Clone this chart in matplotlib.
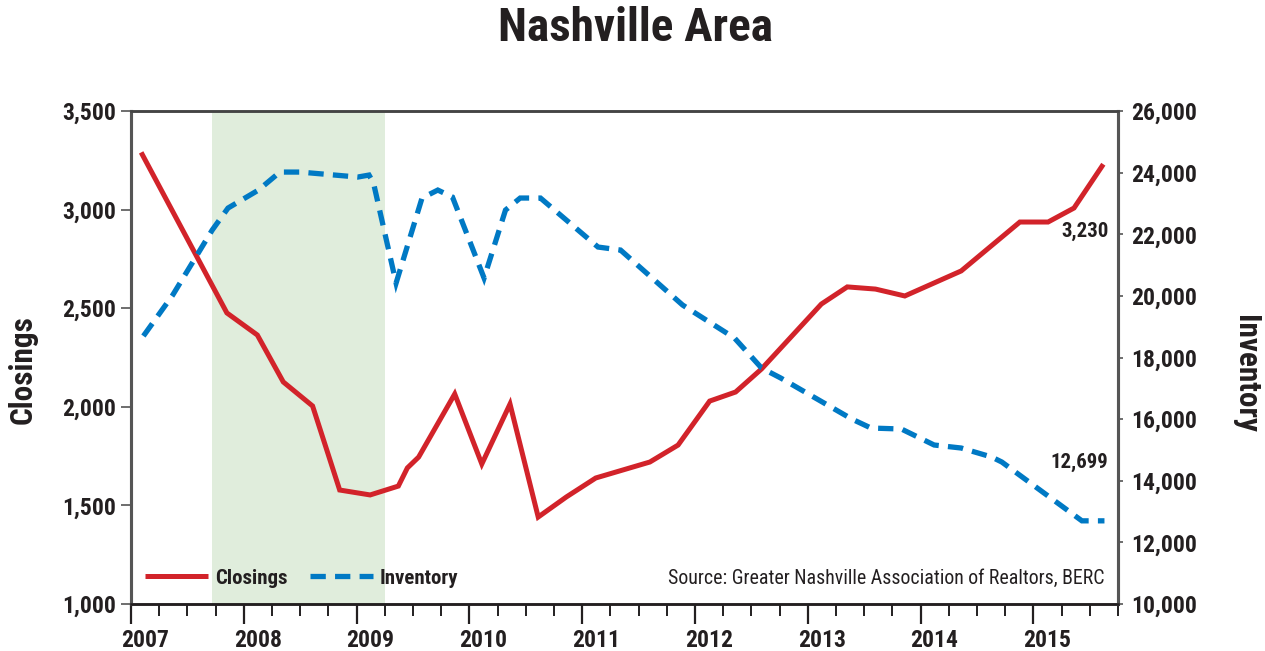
import matplotlib
matplotlib.use("Agg")
import matplotlib.pyplot as plt
from matplotlib import font_manager
from matplotlib.transforms import ScaledTranslation
from matplotlib.ticker import FuncFormatter, MultipleLocator

# ---------------- data ----------------
closings_x = [2007.09, 2007.85, 2008.12, 2008.35, 2008.61, 2008.85, 2009.12, 2009.37,
              2009.45, 2009.55, 2009.87, 2010.11, 2010.36, 2010.61, 2010.86, 2011.12,
              2011.60, 2011.85, 2012.13, 2012.36, 2012.59, 2013.12, 2013.35, 2013.60,
              2013.86, 2014.36, 2014.88, 2015.13, 2015.36, 2015.62]
closings = [3290, 2476, 2364, 2126, 2004, 1578, 1553, 1598,
            1690, 1745, 2065, 1710, 2014, 1441, 1543, 1639,
            1720, 1806, 2029, 2075, 2192, 2521, 2608, 2597,
            2562, 2689, 2937, 2937, 3008, 3230]

inventory_x = [2007.11, 2007.37, 2007.72, 2007.86, 2008.13, 2008.32, 2008.50, 2009.01,
               2009.11, 2009.15, 2009.35, 2009.58, 2009.72, 2009.85, 2010.13, 2010.32,
               2010.45, 2010.63, 2011.14, 2011.34, 2011.89, 2012.35, 2012.59, 2012.76,
               2013.39, 2013.56, 2013.83, 2014.12, 2014.36, 2014.63, 2014.72, 2015.43,
               2015.63]
inventory = [18697, 20027, 22136, 22850, 23434, 24018, 24018, 23856,
             23921, 23661, 20416, 23175, 23434, 23207, 20579, 22785,
             23175, 23175, 21585, 21487, 19703, 18632, 17658, 17334,
             16003, 15711, 15679, 15160, 15062, 14770, 14608, 12699,
             12699]

recession = [2007.72, 2009.25]
years = [2007, 2008, 2009, 2010, 2011, 2012, 2013, 2014, 2015]
year_labels = [str(y) for y in years]
left_ticks = [1000, 1500, 2000, 2500, 3000, 3500]
right_ticks = [10000, 12000, 14000, 16000, 18000, 20000, 22000, 24000, 26000]

title = "Nashville Area"
source = "Source: Greater Nashville Association of Realtors, BERC"

# ---------------- font selection ----------------
fl = font_manager.fontManager.ttflist
names = {f.name for f in fl}
STRETCH = 'normal'
SCALE = 1.0
if "Liberation Sans Narrow" in names:
    FONT = "Liberation Sans Narrow"
elif "Roboto Condensed" in names:
    FONT = "Roboto Condensed"
elif any(f.name == "DejaVu Sans" and f.stretch in ('condensed', 'semi-condensed', 600, 500) for f in fl):
    FONT = "DejaVu Sans"
    STRETCH = 'condensed'
    SCALE = 0.95
else:
    FONT = "DejaVu Sans"
    SCALE = 0.82
plt.rcParams['font.family'] = [FONT, 'DejaVu Sans']
plt.rcParams['font.stretch'] = STRETCH


def fs(v):
    return v * SCALE


RED = "#D2232A"
BLUE = "#0079C4"
GREEN = "#E0EDDC"
DARK = "#231F20"

W, H, DPI = 1265, 651, 100
PT = 72 / DPI  # points per pixel
fig = plt.figure(figsize=(W / DPI, H / DPI), dpi=DPI)
fig.patch.set_facecolor("white")

ax = fig.add_axes([131 / W, 1 - 604 / H, (1118 - 131) / W, (604 - 111) / H])
ax2 = ax.twinx()

ax.axvspan(recession[0], recession[1], color=GREEN, lw=0, zorder=0)

ax.plot(closings_x, closings, color=RED, lw=3.6, solid_joinstyle='miter',
        solid_capstyle='butt', label="Closings", zorder=3)
ax2.plot(inventory_x, inventory, color=BLUE, lw=3.8, linestyle=(0, (2.9, 1.75)),
         dash_joinstyle='miter', dash_capstyle='butt', label="Inventory", zorder=3)

ax.set_xlim(2007, 2015.75)
ax.set_ylim(1000, 3500)
ax2.set_ylim(10000, 26000)

fmt = FuncFormatter(lambda v, p: f"{int(v):,}")
ax.set_yticks(left_ticks)
ax.yaxis.set_major_formatter(fmt)
ax2.set_yticks(right_ticks)
ax2.yaxis.set_major_formatter(fmt)

ax.set_xticks(years)
ax.set_xticklabels(year_labels)
ax.xaxis.set_minor_locator(MultipleLocator(0.25))

TICKFS = fs(17)
ax.tick_params(axis='x', which='major', length=20 * PT, width=1.6, color=DARK,
               labelsize=TICKFS, pad=5 * PT, labelcolor=DARK)
ax.tick_params(axis='x', which='minor', length=12 * PT, width=1.4, color=DARK)
ax.tick_params(axis='y', which='major', length=10 * PT, width=1.2, color="#555555",
               labelsize=TICKFS, pad=5 * PT, labelcolor=DARK)
ax2.tick_params(axis='y', which='major', length=5 * PT, width=1.2, color="#555555",
                labelsize=TICKFS, pad=8 * PT, labelcolor=DARK)
for lab in ax.get_xticklabels() + ax.get_yticklabels() + ax2.get_yticklabels():
    lab.set_fontweight('bold')
offset = ScaledTranslation(14 / DPI, 0, fig.dpi_scale_trans)
for lab in ax.get_xticklabels():
    lab.set_transform(lab.get_transform() + offset)

for a in (ax, ax2):
    a.spines['left'].set_color("#555555")
    a.spines['left'].set_linewidth(2.2)
    a.spines['right'].set_color("#555555")
    a.spines['right'].set_linewidth(2.2)
    a.spines['top'].set_color("#444444")
    a.spines['top'].set_linewidth(1.8)
    a.spines['bottom'].set_color(DARK)
    a.spines['bottom'].set_linewidth(1.8)

# legend
h1, l1 = ax.get_legend_handles_labels()
h2, l2 = ax2.get_legend_handles_labels()
LEGFS = fs(15)
leg = ax2.legend(h1 + h2, l1 + l2, loc='center left',
                 bbox_to_anchor=((145 - 131) / 987, (604 - 578) / 493),
                 frameon=False, ncol=2, borderpad=0, borderaxespad=0,
                 handlelength=63 * PT / LEGFS, handletextpad=7 * PT / LEGFS,
                 columnspacing=22 * PT / LEGFS,
                 prop={'weight': 'bold', 'size': LEGFS, 'stretch': STRETCH})
for t in leg.get_texts():
    t.set_color(DARK)

ax2.text((1105 - 131) / 987, (604 - 578) / 493, source, transform=ax2.transAxes,
         ha='right', va='center', fontsize=fs(14.3), color=DARK, zorder=5)

# annotations
ax.text(2015.60, 3230, "3,230", ha='right', va='top', fontsize=fs(15), fontweight='bold',
        color=DARK, transform=ax.transData + ScaledTranslation(8 / DPI, -58 / DPI, fig.dpi_scale_trans))
ax2.text(2015.63, 12699, "12,699", ha='right', va='bottom', fontsize=fs(15), fontweight='bold',
         color=DARK, transform=ax2.transData + ScaledTranslation(4 / DPI, 49 / DPI, fig.dpi_scale_trans))

# axis titles
fig.text(23 / W, 1 - 370 / H, "Closings", rotation=90, ha='center', va='center',
         fontsize=fs(22.5), fontweight='bold', color=DARK)
fig.text(1246 / W, 1 - 374 / H, "Inventory", rotation=270, ha='center', va='center',
         fontsize=fs(22.5), fontweight='bold', color=DARK)

fig.text(635 / W, 1 - 28 / H, title, ha='center', va='center', fontsize=fs(34),
         fontweight='black', color=DARK)

fig.savefig("out.png", dpi=DPI, facecolor="white")
